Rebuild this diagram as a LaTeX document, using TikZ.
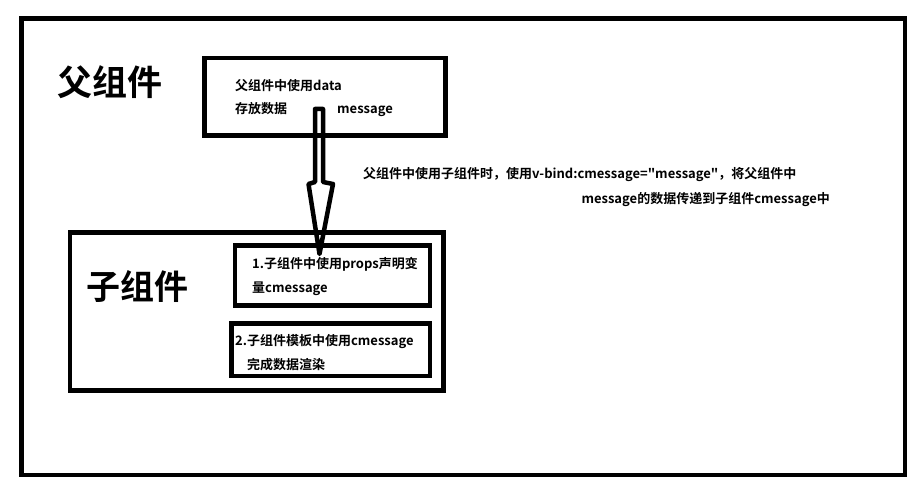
\documentclass[tikz,border=0pt]{standalone}
\usepackage{fontspec}
\newfontfamily\cjk{Noto Sans CJK SC}[BoldFont={Noto Sans CJK SC Bold}]
\begin{document}
\begin{tikzpicture}[x=1pt,y=-1pt,
  box/.style={draw=black,line width=4.8pt,fill=none,inner sep=0pt},
  txt/.style={anchor=base west,inner sep=0pt,font=\cjk\fontsize{13}{15}\selectfont\bfseries},
  big/.style={anchor=base west,inner sep=0pt,font=\cjk\fontsize{35}{40}\selectfont\bfseries},
  arrowline/.style={draw=black,line width=4.5pt,line join=round}]
\useasboundingbox (0,0) rectangle (919,489);
\fill[white] (0,0) rectangle (919,489);
% frame
\node[box,minimum width=883.5pt,minimum height=456.5pt] (frame) at (463.25,246.75) {};
% parent
\node[box,minimum width=241pt,minimum height=77.5pt] (parent) at (325,96.75) {};
\node[big] (plabel) at (57.5,96) {父组件};
\node[txt] (p1) at (235,91) {父组件中使用data};
\node[txt] (p2) at (235,114) {存放数据};
\node[txt] (p3) at (337,114) {message};
% child
\node[box,minimum width=373.5pt,minimum height=158pt] (child) at (256.75,311.5) {};
\node[big,font=\cjk\fontsize{34}{40}\selectfont\bfseries] (clabel) at (86.5,300) {子组件};
\node[box,minimum width=195pt,minimum height=60pt] (c1) at (332.5,275.5) {};
\node[box,minimum width=198.5pt,minimum height=52.5pt] (c2) at (330.75,349.75) {};
\node[txt] (c1a) at (252,269) {1.子组件中使用props声明变};
\node[txt] (c1b) at (252,293) {量cmessage};
\node[txt] (c2a) at (235,345) {2.子组件模板中使用cmessage};
\node[txt] (c2b) at (247,370) {完成数据渲染};
% annotation
\node[txt] (n1) at (363,179) {父组件中使用子组件时，使用v-bind:cmessage="message"，将父组件中};
\node[txt,anchor=base east] (n2) at (830,204) {message的数据传递到子组件cmessage中};
% block arrow
\coordinate (atl) at (315,109);
\coordinate (atr) at (323,109);
\coordinate (tip) at (319.5,254);
\draw[arrowline] (atl) -- (315,182) -- (308.5,184) -- (tip) -- (333,184) -- (323,182) -- (atr) -- cycle;
\end{tikzpicture}
\end{document}
